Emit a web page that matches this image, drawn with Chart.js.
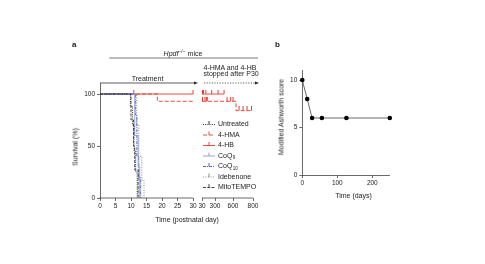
<!DOCTYPE html>
<html><head><meta charset="utf-8">
<script src="https://cdn.jsdelivr.net/npm/chart.js@4.4.0/dist/chart.umd.min.js"></script>
<style>
html,body{margin:0;padding:0;background:#fff;width:485px;height:264px;overflow:hidden;font-family:"Liberation Sans",Arial,sans-serif;color:#222}
#wrap{position:relative;width:485px;height:264px}
canvas{position:absolute;top:0}
.t{position:absolute;font-size:7px;line-height:7px;white-space:nowrap;color:#222}
.c{transform:translate(-50%,-50%)}
.r{transform:translate(-50%,-50%) rotate(-90deg)}
sup{font-size:5px;line-height:0;vertical-align:3px}
</style></head><body>
<div id="wrap">
<canvas id="ca" width="270" height="264" style="left:0;width:270px;height:264px"></canvas>
<canvas id="cb" width="140" height="264" style="left:260px;width:140px;height:264px"></canvas>
<div class="t" style="left:72px;top:41px;font-weight:bold;font-size:8px;line-height:8px">a</div>
<div class="t c" style="left:183px;top:52.5px"><i>Hpdf</i><sup>−/−</sup> mice</div>
<div class="t" style="left:203.5px;top:64px">4-HMA and 4-HB</div>
<div class="t" style="left:203.5px;top:70px">stopped after P30</div>
<div class="t c" style="left:147.5px;top:77.5px">Treatment</div>
<div class="t r" style="left:75px;top:147px">Survival (%)</div>
<div class="t c" style="left:187px;top:219px">Time (postnatal day)</div>
<div class="t" style="left:275px;top:41px;font-weight:bold;font-size:8px;line-height:8px">b</div>
<div class="t r" style="left:281px;top:117px">Modified Ashworth score</div>
<div class="t c" style="left:353.5px;top:195px">Time (days)</div>
</div>
<script>
const FONT = '"Liberation Sans", Arial, sans-serif';

// ---------- Panel a: survival (Kaplan–Meier), [day, survival %] ----------
const seg1TickDays = [0, 5, 10, 15, 20, 25, 30];
const seg2TickDays = [30, 300, 600, 800];
const survivalTicks = [0, 50, 100];

const untreatedKM = [[0,100],[9.8,88],[10.5,70],[11,45],[11.5,25],[12,0]];
const mitoKM      = [[0,100],[10,75],[10.8,50],[11.2,27],[12.3,0]];
const coq9KM      = [[0,100],[11.2,60],[12.3,30],[12.8,0]];
const coq10KM     = [[0,100],[11.4,80],[11.9,40],[12.5,20],[13.1,0]];
const idebKM      = [[0,100],[11.8,70],[12.5,40],[13.5,17],[14.2,0]];
const hbKM1       = [[0,100],[30,100]];
const hbCensor1   = [[10.9,100],[30,100]];
const hmaKM1      = [[0,100],[18.5,93],[30,93]];
const hbKM2       = [[30,100],[450,100]];
const hbCensor2   = [[40,100],[60,100],[110,100],[230,100],[350,100],[450,100]];
const hmaKM2      = [[30,93],[630,84],[790,84]];
const hmaCensor2  = [[40,93],[90,93],[120,93],[140,93],[500,93],[560,93],[600,93],[660,84],[700,84],[740,84],[785,84]];

const legendLabels = ['Untreated','4-HMA','4-HB','CoQ','CoQ','Idebenone','MitoTEMPO'];
const legendSubs   = ['','','','9','10','',''];

// ---------- Panel b: Modified Ashworth score ----------
const ashDays   = [0, 14, 28, 56, 126, 250];
const ashScores = [10, 8, 6, 6, 6, 6];
const ashXTicks = [0, 100, 200];
const ashYTicks = [0, 5, 10];

// ---------- styles ----------
const RED = '#e8392e';
const groupStyles = [
  {color:'#222', dash:[1,1.2]},      // Untreated
  {color:RED, dash:[4,2]},           // 4-HMA
  {color:RED, dash:[]},              // 4-HB
  {color:'#8a9cdb', dash:[]},        // CoQ9
  {color:'#3354c6', dash:[3,1,1,1]}, // CoQ10
  {color:'#808080', dash:[1,1.5]},   // Idebenone
  {color:'#333', dash:[3,1.2]}       // MitoTEMPO
];

// broken-axis layout: where the second segment's tick days sit (in axis units)
const SEG2_U = [32.9, 37.1, 42.9, 49.35];
function toU(day, seg){
  if (seg === 1) return day;
  const a = seg2TickDays;
  for (let i = 0; i < a.length - 1; i++) {
    if (day <= a[i+1]) return SEG2_U[i] + (day - a[i]) / (a[i+1] - a[i]) * (SEG2_U[i+1] - SEG2_U[i]);
  }
  return SEG2_U[SEG2_U.length-1];
}
const xTickU = seg1TickDays.map(d => toU(d,1)).concat(seg2TickDays.map(d => toU(d,2)));
const xTickLabels = seg1TickDays.concat(seg2TickDays).map(String);

function km(arr, seg){ return arr.map(([d,s]) => ({x: toU(d,seg), y: s})); }
function tickImg(color){
  const c = document.createElement('canvas'); c.width = 3; c.height = 9;
  const g = c.getContext('2d'); g.strokeStyle = color; g.lineWidth = 1;
  g.beginPath(); g.moveTo(1.5, 0); g.lineTo(1.5, 4.5); g.stroke();
  return c;
}
const redTick = tickImg(RED);

function kmSet(arr, seg, gi){
  const s = groupStyles[gi];
  return {type:'line', data: km(arr, seg), stepped:true, borderColor:s.color, borderDash:s.dash,
          borderWidth: 0.9, pointRadius:0, fill:false, clip:false};
}
function censorSet(arr, seg){
  return {type:'scatter', data: km(arr, seg), showLine:false, pointStyle: redTick,
          pointRadius: 2, borderColor: RED, backgroundColor: RED, clip:false};
}

const tickFont = {family: FONT, size: 6.5};

const annotA = {
  id: 'annotA',
  afterDraw(chart){
    const ctx = chart.ctx, xs = chart.scales.x, ys = chart.scales.y;
    const axY = ys.getPixelForValue(0);
    ctx.save();
    ctx.strokeStyle = '#444'; ctx.lineWidth = 0.8;
    // broken x-axis segments
    ctx.beginPath();
    ctx.moveTo(xs.getPixelForValue(toU(0,1)) - 0.4, axY); ctx.lineTo(xs.getPixelForValue(toU(30,1)), axY);
    ctx.moveTo(xs.getPixelForValue(toU(30,2)), axY); ctx.lineTo(xs.getPixelForValue(toU(800,2)), axY);
    ctx.stroke();
    // Hpdf mice bar
    const barY = 58;
    ctx.strokeStyle = '#555';
    ctx.beginPath(); ctx.moveTo(xs.getPixelForValue(3), barY); ctx.lineTo(xs.getPixelForValue(toU(800,2)) + 5, barY); ctx.stroke();
    // treatment arrow
    const arY = 83;
    const x0 = xs.getPixelForValue(0), x1 = xs.getPixelForValue(toU(30,1)) + 5;
    ctx.strokeStyle = '#333';
    ctx.beginPath(); ctx.moveTo(x0, arY); ctx.lineTo(x1 - 3, arY); ctx.stroke();
    ctx.fillStyle = '#222';
    ctx.beginPath(); ctx.moveTo(x1, arY); ctx.lineTo(x1 - 4, arY - 1.6); ctx.lineTo(x1 - 4, arY + 1.6); ctx.closePath(); ctx.fill();
    // dotted arrow
    const d0 = xs.getPixelForValue(toU(30,2)) + 2, d1 = xs.getPixelForValue(toU(800,2)) + 6;
    ctx.setLineDash([1.2,1.4]);
    ctx.beginPath(); ctx.moveTo(d0, arY); ctx.lineTo(d1 - 3, arY); ctx.stroke();
    ctx.setLineDash([]);
    ctx.beginPath(); ctx.moveTo(d1, arY); ctx.lineTo(d1 - 4, arY - 1.6); ctx.lineTo(d1 - 4, arY + 1.6); ctx.closePath(); ctx.fill();
    // legend
    const lx = 203, ly0 = 124.5, dy = 10.5;
    ctx.font = '7px ' + FONT; ctx.textBaseline = 'middle'; ctx.textAlign = 'left';
    legendLabels.forEach((lab, i) => {
      const y = ly0 + i * dy, st = groupStyles[i];
      ctx.strokeStyle = st.color; ctx.lineWidth = 0.9; ctx.setLineDash(st.dash);
      ctx.beginPath(); ctx.moveTo(lx, y); ctx.lineTo(lx + 12, y); ctx.stroke();
      ctx.setLineDash([]);
      ctx.beginPath(); ctx.moveTo(lx + 6, y); ctx.lineTo(lx + 6, y - 3.5); ctx.stroke();
      ctx.fillStyle = '#222';
      ctx.font = '7px ' + FONT;
      ctx.fillText(lab, lx + 15, y);
      if (legendSubs[i]) {
        const w = ctx.measureText(lab).width;
        ctx.font = '4.5px ' + FONT;
        ctx.fillText(legendSubs[i], lx + 15 + w + 0.3, y + 2);
      }
    });
    ctx.restore();
  }
};

new Chart(document.getElementById('ca'), {
  type: 'line',
  data: { datasets: [
    kmSet(untreatedKM,1,0), kmSet(mitoKM,1,6), kmSet(coq9KM,1,3), kmSet(coq10KM,1,4), kmSet(idebKM,1,5),
    kmSet(hbKM1,1,2), kmSet(hmaKM1,1,1), kmSet(hbKM2,2,2), kmSet(hmaKM2,2,1),
    censorSet(hbCensor1,1), censorSet(hbCensor2,2), censorSet(hmaCensor2,2)
  ]},
  options: {
    responsive:false, animation:false, events:[],
    layout:{padding:{left:0, right:17, top:83.6, bottom:46}},
    plugins:{legend:{display:false}, tooltip:{enabled:false}},
    scales:{
      x:{type:'linear', min:0, max:SEG2_U[SEG2_U.length-1],
         border:{display:false},
         grid:{display:true, drawOnChartArea:false, drawTicks:true, tickLength:3, color:'#444', lineWidth:0.8},
         ticks:{autoSkip:false, maxRotation:0, font:tickFont, color:'#222', padding:1.5,
                callback:(v,i) => xTickLabels[i]},
         afterBuildTicks: s => { s.ticks = xTickU.map(v => ({value:v})); },
         afterFit: s => { s.height = 20; }},
      y:{min:0, max:110,
         border:{display:true, color:'#444', width:0.8},
         grid:{display:true, drawOnChartArea:false, tickLength:3, color:'#444', lineWidth:0.8},
         ticks:{font:tickFont, color:'#222', padding:2},
         afterBuildTicks: s => { s.ticks = survivalTicks.map(v => ({value:v})); },
         afterFit: s => { s.width = 100; }}
    }
  },
  plugins:[annotA]
});

new Chart(document.getElementById('cb'), {
  type: 'line',
  data: { datasets: [{
    data: ashDays.map((d,i) => ({x:d, y:ashScores[i]})),
    borderColor:'#444', borderWidth:0.8, pointRadius:2.3, pointBackgroundColor:'#000',
    pointBorderColor:'#000', pointBorderWidth:0, fill:false, clip:false, tension:0
  }]},
  options: {
    responsive:false, animation:false, events:[],
    layout:{padding:{left:0, right:10.2, top:70.5, bottom:69}},
    plugins:{legend:{display:false}, tooltip:{enabled:false}},
    scales:{
      x:{type:'linear', min:0, max:250,
         border:{display:true, color:'#444', width:0.8},
         grid:{display:true, drawOnChartArea:false, tickLength:3, color:'#444', lineWidth:0.8},
         ticks:{autoSkip:false, maxRotation:0, font:tickFont, color:'#222', padding:1.5},
         afterBuildTicks: s => { s.ticks = ashXTicks.map(v => ({value:v})); },
         afterFit: s => { s.height = 20; }},
      y:{min:0, max:11,
         border:{display:true, color:'#444', width:0.8},
         grid:{display:true, drawOnChartArea:false, tickLength:3, color:'#444', lineWidth:0.8},
         ticks:{font:tickFont, color:'#222', padding:2},
         afterBuildTicks: s => { s.ticks = ashYTicks.map(v => ({value:v})); },
         afterFit: s => { s.width = 42.3; }}
    }
  }
});
</script>
</body></html>
